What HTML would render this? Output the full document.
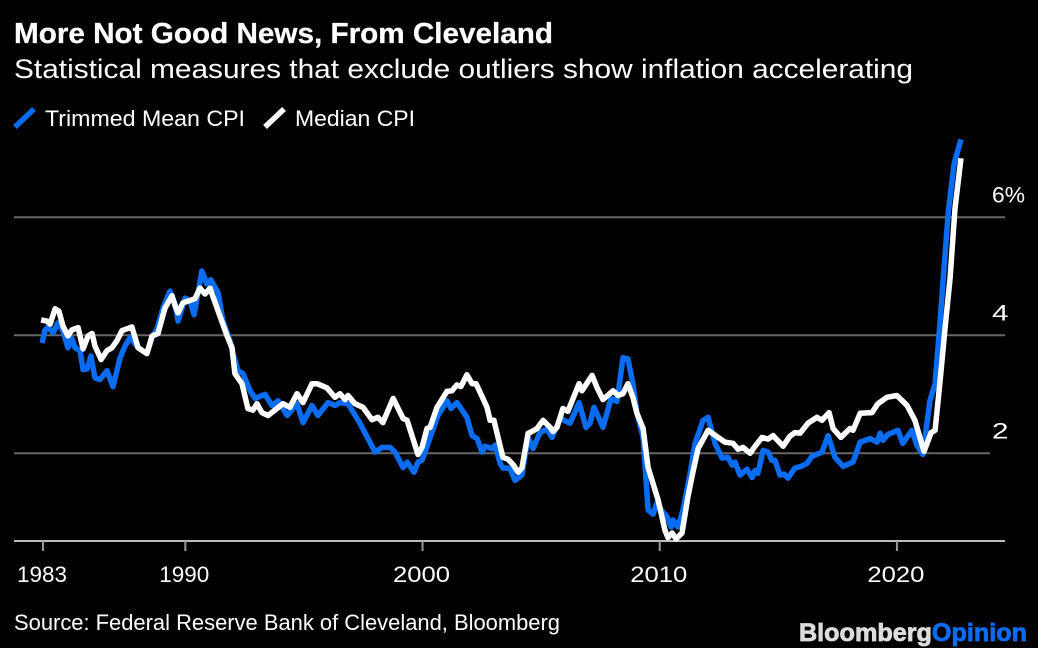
<!DOCTYPE html>
<html>
<head>
<meta charset="utf-8">
<style>
html,body{margin:0;padding:0;background:#000;}
svg{display:block;}
text{font-family:"Liberation Sans",sans-serif;fill:#fff;}
</style>
</head>
<body>
<svg id="chart" width="1038" height="648" viewBox="0 0 1038 648" xmlns="http://www.w3.org/2000/svg">
<rect width="1038" height="648" fill="#000"/>
<text x="14" y="43" font-size="29" font-weight="700" textLength="539" lengthAdjust="spacingAndGlyphs" stroke="#fff" stroke-width="0.3">More Not Good News, From Cleveland</text>
<text x="14" y="78" font-size="27" textLength="899" lengthAdjust="spacingAndGlyphs">Statistical measures that exclude outliers show inflation accelerating</text>
<line x1="15" y1="127" x2="34" y2="109" stroke="#0a6cf0" stroke-width="5.5"/>
<text x="45" y="126" font-size="22" textLength="200" lengthAdjust="spacingAndGlyphs" fill="#fff">Trimmed Mean CPI</text>
<line x1="265" y1="127" x2="284" y2="109" stroke="#fff" stroke-width="5.5"/>
<text x="295" y="126" font-size="22" textLength="120" lengthAdjust="spacingAndGlyphs">Median CPI</text>
<g id="grid"></g>
<g id="xaxis"></g>
<g id="series"></g>
<g id="ylabels"></g>
<text x="14" y="630" font-size="22" textLength="546" lengthAdjust="spacingAndGlyphs" fill="#eee">Source: Federal Reserve Bank of Cleveland, Bloomberg</text>
<text x="799" y="641" font-size="25" font-weight="700" textLength="228" lengthAdjust="spacingAndGlyphs" stroke-width="0.8"><tspan fill="#dcdcdc" stroke="#dcdcdc">Bloomberg</tspan><tspan fill="#0a6cf0" stroke="#0a6cf0">Opinion</tspan></text>
</svg>
<script>
var trimmedDates = [1983.96,1984.08,1984.21,1984.42,1984.63,1984.84,1985.05,1985.22,1985.35,1985.56,1985.69,1985.86,1986.02,1986.19,1986.40,1986.70,1986.95,1987.25,1987.46,1987.67,1988.01,1988.38,1988.60,1988.81,1989.06,1989.35,1989.57,1989.69,1989.99,1990.20,1990.37,1990.70,1990.91,1991.08,1991.38,1991.59,1991.88,1992.01,1992.22,1992.43,1992.73,1992.94,1993.36,1993.65,1993.91,1994.29,1994.71,1994.96,1995.34,1995.59,1996.02,1996.31,1996.52,1996.86,1997.36,1998.00,1998.29,1998.63,1998.84,1999.18,1999.35,1999.64,1999.81,1999.98,2000.32,2000.65,2001.03,2001.20,2001.45,2001.87,2002.09,2002.30,2002.51,2002.64,2002.93,2003.06,2003.27,2003.39,2003.69,2003.90,2004.19,2004.45,2004.66,2004.95,2005.25,2005.46,2005.80,2006.22,2006.60,2006.89,2007.06,2007.23,2007.61,2007.95,2008.20,2008.45,2008.66,2008.87,2009.04,2009.30,2009.51,2009.72,2009.89,2010.06,2010.31,2010.48,2010.56,2010.77,2010.98,2011.28,2011.49,2011.83,2012.04,2012.33,2012.63,2012.88,2013.05,2013.18,2013.39,2013.68,2013.89,2014.02,2014.14,2014.36,2014.57,2014.73,2014.86,2015.07,2015.24,2015.41,2015.70,2015.96,2016.21,2016.42,2016.84,2017.10,2017.39,2017.73,2018.15,2018.45,2018.87,2019.16,2019.29,2019.41,2019.62,2020.04,2020.25,2020.63,2020.84,2021.09,2021.39,2021.61,2021.82,2022.03,2022.16,2022.41,2022.70];
var trimmedValues = [3.87,4.08,4.14,4.04,4.21,4.08,3.79,3.94,3.79,3.74,3.42,3.43,3.65,3.28,3.25,3.40,3.13,3.62,3.82,3.96,3.79,3.69,3.96,4.11,4.46,4.75,4.53,4.24,4.63,4.58,4.35,5.09,4.87,4.94,4.72,4.24,3.91,3.69,3.40,3.35,3.06,2.93,3.00,2.81,2.89,2.64,2.84,2.52,2.81,2.64,2.86,2.81,2.86,2.84,2.51,2.02,2.10,2.10,2.02,1.76,1.85,1.68,1.85,1.88,2.27,2.64,2.89,2.76,2.86,2.61,2.30,2.25,2.02,2.12,2.08,2.14,1.83,1.75,1.75,1.54,1.63,2.27,2.08,2.35,2.41,2.27,2.59,2.51,2.86,2.44,2.51,2.78,2.44,2.93,2.88,3.62,3.60,3.18,2.69,2.27,1.04,0.97,1.17,1.04,0.92,0.75,0.87,0.75,1.04,1.66,2.17,2.56,2.61,2.17,1.92,1.93,1.80,1.85,1.63,1.73,1.59,1.71,1.66,2.05,2.02,1.88,1.88,1.63,1.65,1.58,1.75,1.78,1.83,1.95,2.02,2.30,1.93,1.78,1.85,2.19,2.25,2.19,2.34,2.22,2.32,2.39,2.17,2.39,2.14,1.98,2.89,3.18,4.24,5.38,6.07,6.91,7.32];
var medianDates = [1983.92,1984.17,1984.30,1984.51,1984.67,1984.84,1985.05,1985.22,1985.48,1985.69,1985.90,1986.07,1986.19,1986.45,1986.70,1986.91,1987.12,1987.33,1987.75,1988.01,1988.38,1988.60,1988.85,1989.14,1989.44,1989.57,1989.69,1989.90,1990.41,1990.62,1990.83,1991.04,1991.34,1991.76,1991.97,1992.09,1992.39,1992.64,1992.85,1993.02,1993.23,1993.49,1994.12,1994.41,1994.71,1994.96,1995.34,1995.55,1995.97,1996.31,1996.52,1996.73,1996.86,1997.15,1997.49,1997.87,1998.12,1998.33,1998.76,1999.18,1999.35,1999.81,1999.98,2000.19,2000.32,2000.61,2001.03,2001.24,2001.45,2001.62,2001.87,2002.09,2002.26,2002.72,2002.85,2003.01,2003.39,2003.60,2003.82,2004.03,2004.19,2004.45,2004.53,2004.83,2005.08,2005.38,2005.50,2005.67,2005.92,2006.13,2006.43,2006.60,2006.72,2007.15,2007.36,2007.61,2008.03,2008.24,2008.45,2008.66,2008.87,2009.04,2009.30,2009.51,2009.80,2009.93,2010.22,2010.35,2010.52,2010.69,2010.94,2011.19,2011.40,2011.62,2012.04,2012.46,2012.75,2013.09,2013.30,2013.51,2013.81,2014.02,2014.31,2014.57,2014.78,2015.20,2015.49,2015.70,2015.92,2016.25,2016.63,2016.84,2017.14,2017.31,2017.64,2018.02,2018.15,2018.45,2018.95,2019.20,2019.58,2020.00,2020.43,2020.76,2021.14,2021.44,2021.61,2021.82,2022.03,2022.24,2022.45,2022.70];
var medianValues = [4.26,4.24,4.19,4.45,4.41,4.16,3.99,4.09,4.13,3.77,3.99,4.03,3.82,3.59,3.74,3.79,3.91,4.08,4.14,3.79,3.69,3.99,4.03,4.46,4.67,4.50,4.38,4.55,4.62,4.80,4.70,4.80,4.46,3.99,3.79,3.35,3.18,2.76,2.73,2.84,2.69,2.64,2.84,2.78,3.01,2.86,3.18,3.18,3.11,2.95,3.01,2.91,2.98,2.84,2.78,2.57,2.61,2.52,2.93,2.59,2.56,1.98,2.10,2.42,2.44,2.78,3.05,3.06,3.16,3.13,3.33,3.18,3.18,2.78,2.56,2.56,1.93,1.90,1.81,1.68,1.75,2.34,2.35,2.42,2.56,2.44,2.37,2.44,2.76,2.71,3.01,3.18,3.06,3.32,3.11,2.91,3.06,2.98,3.01,3.18,2.95,2.68,2.42,1.76,1.38,1.21,0.70,0.57,0.65,0.55,0.65,1.26,1.68,2.08,2.39,2.27,2.19,2.17,2.07,2.10,2.00,2.12,2.27,2.24,2.30,2.12,2.29,2.35,2.34,2.51,2.61,2.56,2.69,2.42,2.27,2.42,2.39,2.68,2.69,2.84,2.95,2.98,2.81,2.56,2.03,2.35,2.39,3.23,4.13,4.97,6.15,7.00];
var xTickYears = [1984,1990,2000,2010,2020];
var xTickLabels = ['1983','1990','2000','2010','2020'];
var yTickValues = [2,4,6];
var yTickLabels = ['2','4','6%'];

var NS = 'http://www.w3.org/2000/svg';
function xScale(year){ return 43 + (year - 1984) * 23.72; }
function yScale(v){ return 453.3 - (v - 2) * 59; }
function make(tag, attrs, parent, text){
  var el = document.createElementNS(NS, tag);
  for (var k in attrs) el.setAttribute(k, attrs[k]);
  if (text !== undefined) el.textContent = text;
  parent.appendChild(el);
  return el;
}
function linePath(dates, values){
  return dates.map(function(d, i){
    return (i ? 'L' : 'M') + xScale(d).toFixed(1) + ' ' + yScale(values[i]).toFixed(1);
  }).join('');
}

var grid = document.getElementById('grid');
var ylabels = document.getElementById('ylabels');
yTickValues.forEach(function(v, i){
  var g = make('line', {x1:14, x2:(v === 2 ? 990 : 1005), y1:yScale(v), y2:yScale(v), stroke:'#666', 'stroke-width':2}, grid);
  
  
  var t = make('text', {x:992, y:yScale(v) - 15, 'font-size':22, textLength:(yTickLabels[i].length * 16.5), lengthAdjust:'spacingAndGlyphs'}, ylabels, yTickLabels[i]);
  
  
});

var xaxis = document.getElementById('xaxis');
var axisLine = make('line', {x1:14, x2:1005, y1:541, y2:541, stroke:'#bbb', 'stroke-width':2}, xaxis);


xTickYears.forEach(function(y, i){
  var x = xScale(y);
  var tick = make('line', {x1:x, x2:x, y1:541, y2:551, stroke:'#999', 'stroke-width':2}, xaxis);
  
  
  var wide = xTickLabels[i].charAt(0) === '2';
  var t = make('text', {x:x - 1, y:582, 'font-size':22, 'text-anchor':'middle', textLength:(wide ? 57 : 50), lengthAdjust:'spacingAndGlyphs'}, xaxis, xTickLabels[i]);
  
  
});

var series = document.getElementById('series');
var trimmedLine = make('path', {d:linePath(trimmedDates, trimmedValues), fill:'none', stroke:'#0a6cf0', 'stroke-width':5.5, 'stroke-linejoin':'round'}, series);


var medianLine = make('path', {d:linePath(medianDates, medianValues), fill:'none', stroke:'#fff', 'stroke-width':5.5, 'stroke-linejoin':'round'}, series);


</script>
</body>
</html>
